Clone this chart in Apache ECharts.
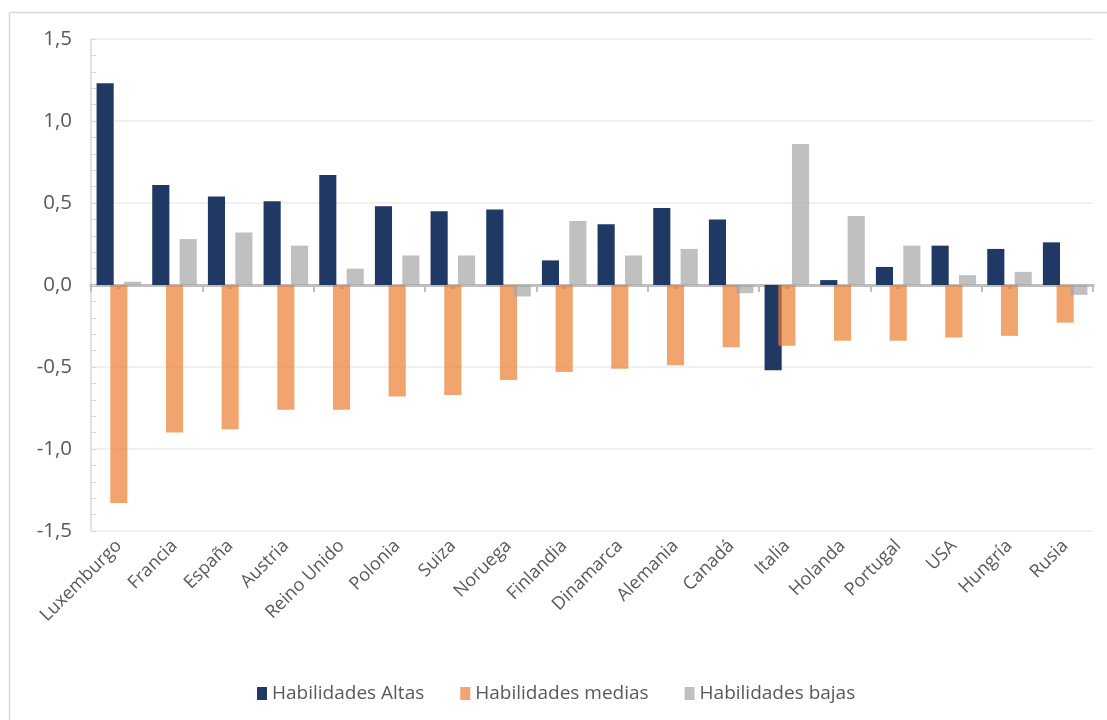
<!DOCTYPE html>
<html>
<head>
<meta charset="utf-8">
<script src="https://cdn.jsdelivr.net/npm/echarts@6/dist/echarts.min.js"></script>
<style>
html,body{margin:0;padding:0;background:#fff;}
#chart{width:1107px;height:720px;}
</style>
</head>
<body>
<div id="chart"></div>
<script>
const categories = ['Luxemburgo','Francia','España','Austria','Reino Unido','Polonia','Suiza','Noruega','Finlandia','Dinamarca','Alemania','Canadá','Italia','Holanda','Portugal','USA','Hungría','Rusia'];
const seriesNames = ['Habilidades Altas','Habilidades medias','Habilidades bajas'];
const altas  = [1.23, 0.61, 0.54, 0.51, 0.67, 0.48, 0.45, 0.46, 0.15, 0.37, 0.47, 0.40, -0.52, 0.03, 0.11, 0.24, 0.22, 0.26];
const medias = [-1.33, -0.90, -0.88, -0.76, -0.76, -0.68, -0.67, -0.58, -0.53, -0.51, -0.49, -0.38, -0.37, -0.34, -0.34, -0.32, -0.31, -0.23];
const bajas  = [0.02, 0.28, 0.32, 0.24, 0.10, 0.18, 0.18, -0.07, 0.39, 0.18, 0.22, -0.05, 0.86, 0.42, 0.24, 0.06, 0.08, -0.06];
const yMin = -1.5, yMax = 1.5, yStep = 0.5;

const textColor = '#595959';
const font = "'Open Sans', 'Noto Sans', sans-serif";
const chart = echarts.init(document.getElementById('chart'));
chart.setOption({
  animation: false,
  backgroundColor: '#fff',
  graphic: [{
    type: 'rect', silent: true,
    shape: { x: 9.5, y: 12.5, width: 1200, height: 800 },
    style: { fill: 'none', stroke: '#D9D9D9', lineWidth: 1.5 }
  }],
  grid: { left: 91, right: 14, top: 39, bottom: 189 },
  legend: {
    data: seriesNames,
    top: 679, left: 252,
    icon: 'rect', itemWidth: 10, itemHeight: 13, itemGap: 36,
    textStyle: { color: textColor, fontSize: 19, fontFamily: font }
  },
  xAxis: [
    {
      type: 'category', data: categories, position: 'bottom',
      axisLine: { show: false, onZero: false },
      axisTick: { show: false },
      axisLabel: { rotate: 45, margin: 12, color: textColor, fontSize: 18, fontFamily: font, interval: 0 }
    },
    {
      type: 'category', data: categories, position: 'bottom',
      axisLine: { show: true, onZero: true, onZeroAxisIndex: 0, lineStyle: { color: '#BFBFBF', width: 3 } },
      axisTick: { show: true, length: 7, lineStyle: { color: '#BFBFBF', width: 2 } },
      axisLabel: { show: false }
    },
    {
      type: 'category', data: categories, position: 'bottom',
      axisLine: { show: true, onZero: true, onZeroAxisIndex: 1, lineStyle: { color: '#BFBFBF', width: 3 } },
      axisTick: { show: true, alignWithLabel: true, length: 4, lineStyle: { color: '#BFBFBF', width: 4 } },
      axisLabel: { show: false }
    }
  ],
  yAxis: [
    {
      type: 'value', min: yMin, max: yMax, interval: yStep,
      axisLine: { show: true, lineStyle: { color: '#D9D9D9', width: 1.5 } },
      axisTick: { show: true, inside: true, length: 5, lineStyle: { color: '#D9D9D9' } },
      minorTick: { show: true, splitNumber: 5, length: 5, lineStyle: { color: '#D9D9D9' } },
      splitLine: { show: true, lineStyle: { color: '#EDEDED', width: 1.5 } },
      axisLabel: {
        color: textColor, fontSize: 20.5, fontFamily: font, margin: 19,
        formatter: v => v.toFixed(1).replace('.', ',')
      }
    },
    {
      type: 'value', min: yMin, max: yMax, interval: yStep, position: 'right',
      axisLine: { show: false }, axisTick: { show: false },
      axisLabel: { show: false }, splitLine: { show: false }
    }
  ],
  series: [
    { name: seriesNames[0], type: 'bar', data: altas, barCategoryGap: '20%', barGap: '-20%',
      itemStyle: { color: '#1F3864' } },
    { name: seriesNames[1], type: 'bar', data: medias,
      itemStyle: { color: 'rgba(237,125,49,0.7)' } },
    { name: seriesNames[2], type: 'bar', data: bajas,
      itemStyle: { color: 'rgba(165,165,165,0.7)' } }
  ]
});
</script>
</body>
</html>
